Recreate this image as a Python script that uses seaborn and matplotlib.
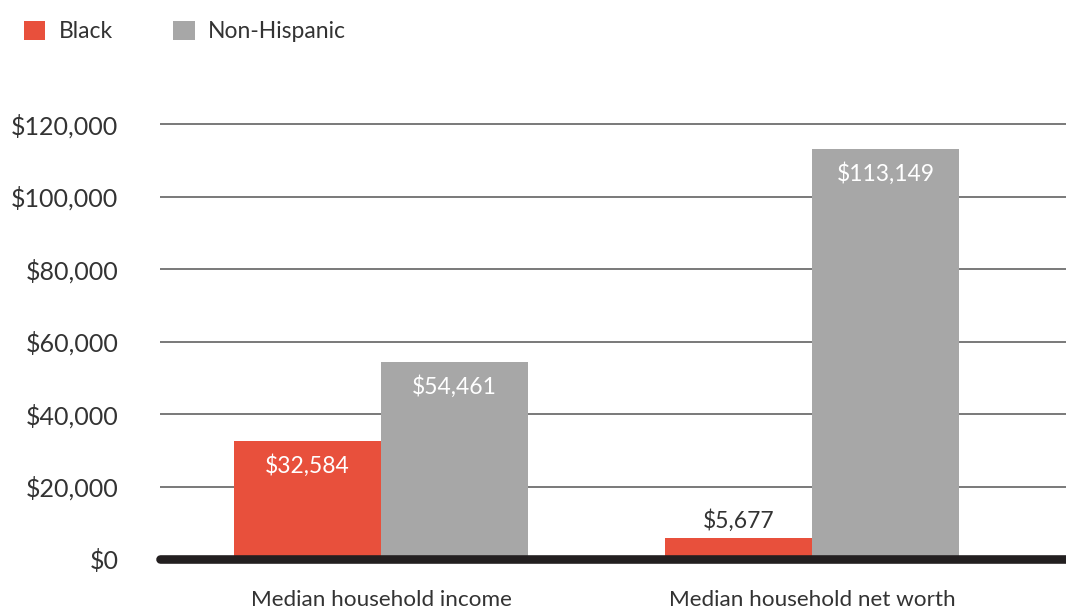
import matplotlib
matplotlib.use("Agg")
import matplotlib.pyplot as plt
import seaborn as sns
import pandas as pd

# Values
measures = ["Median household income", "Median household net worth"]
groups = ["Black", "Non-Hispanic"]
black_values = [32584, 5677]
nonhispanic_values = [54461, 113149]
y_ticks = [0, 20000, 40000, 60000, 80000, 100000, 120000]

palette = {"Black": "#E8503C", "Non-Hispanic": "#A7A7A7"}

df = pd.DataFrame({
    "measure": measures * 2,
    "group": [groups[0]] * 2 + [groups[1]] * 2,
    "value": black_values + nonhispanic_values,
})

sns.set_theme(style="white")
plt.rcParams["font.family"] = ["Lato", "DejaVu Sans"]

TEXT = "#333333"

fig = plt.figure(figsize=(10.66, 6.08), dpi=100)
W, H = 1066, 608
y0, y120, ytop = 559, 124, 110
ax = fig.add_axes([160 / W, (H - y0) / H, (1066 - 160) / W, (y0 - ytop) / H])

sns.barplot(data=df, x="measure", y="value", hue="group", order=measures,
            hue_order=groups, palette=palette, width=0.682, gap=0,
            saturation=1, ax=ax, zorder=3, edgecolor="none", linewidth=0)

ymax = 120000 * (y0 - ytop) / (y0 - y120)
ax.set_ylim(0, ymax)
ax.set_xlim(-0.513, 1.589)

# Horizontal grid
for t in y_ticks[1:]:
    ax.axhline(t, color="#555555", lw=1.1, zorder=1)
ax.plot([-0.513, 1.589], [0, 0], color="#231F20", lw=6.2, solid_capstyle="round",
        zorder=5, clip_on=False)

ax.set_yticks(y_ticks)
ax.set_yticklabels([f"${v:,}" for v in y_ticks], fontsize=18, color=TEXT)
ax.tick_params(axis="y", length=0, pad=30)
ax.tick_params(axis="x", length=0, pad=22, labelsize=16.2, labelcolor=TEXT)
ax.set_xlabel("")
ax.set_ylabel("")
for s in ax.spines.values():
    s.set_visible(False)

# Value labels
for container, vals in zip(ax.containers, [black_values, nonhispanic_values]):
    for bar, v in zip(container, vals):
        cx = bar.get_x() + bar.get_width() / 2
        txt = f"${v:,}"
        if v > 15000:
            ax.annotate(txt, (cx, v), xytext=(0, -18), textcoords="offset points",
                        ha="center", va="center", color="white", fontsize=16.5,
                        zorder=6)
        else:
            ax.annotate(txt, (cx, v), xytext=(0, 13), textcoords="offset points",
                        ha="center", va="center", color=TEXT, fontsize=16.5,
                        zorder=6)

# Legend across the top
sns.move_legend(ax, loc="upper left", bbox_to_anchor=(3 / W, 1 - 0 / H),
                bbox_transform=fig.transFigure, ncol=2, frameon=False, title=None,
                fontsize=16.5, handlelength=0.95, handleheight=0.95,
                handletextpad=0.6, columnspacing=2.6)
for t in ax.get_legend().get_texts():
    t.set_color(TEXT)

fig.savefig("out.png", dpi=100)
